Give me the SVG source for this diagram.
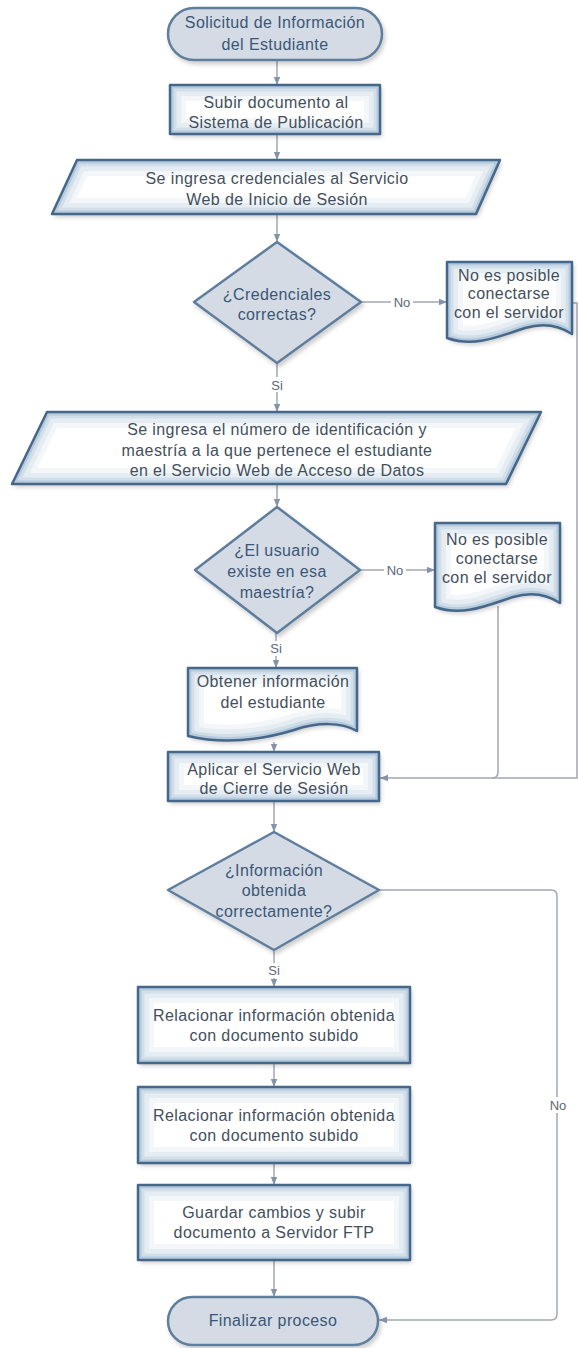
<svg xmlns="http://www.w3.org/2000/svg" width="578" height="1348" viewBox="0 0 578 1348">
<defs>
<filter id="shd" x="-10%" y="-15%" width="125%" height="140%">
<feGaussianBlur in="SourceAlpha" stdDeviation="2" result="b"/>
<feOffset in="b" dx="2" dy="3" result="o"/>
<feFlood flood-color="#000" flood-opacity="0.2"/>
<feComposite in2="o" operator="in" result="shadow"/>
<feMerge><feMergeNode in="shadow"/><feMergeNode in="SourceGraphic"/></feMerge>
</filter>
<marker id="ah" viewBox="0 0 10 10" refX="10" refY="5" markerWidth="8" markerHeight="8" orient="auto" markerUnits="userSpaceOnUse">
<path d="M0,1 L10,5 L0,9 z" fill="#8494a8"/>
</marker>
<rect id="s2" x="170" y="85" width="210" height="49"/>
<path id="s3" d="M77,160 H500 L476,214 H52 Z"/>
<path id="s5" d="M447,262 H572 V334 C560,326 545,322 525,328 C500,336 475,348 447,338 Z"/>
<path id="s6" d="M47,412 H541 L506,484 H12 Z"/>
<path id="s8" d="M435,523 H560 V603 C548,595 533,591 513,597 C488,605 463,617 435,607 Z"/>
<path id="s9" d="M188,668 H357 V731 C341,722 318,722 294,730 C261,740 226,745 188,736 Z"/>
<rect id="s10" x="168" y="752" width="211" height="49"/>
<rect id="s12" x="138" y="987" width="272" height="76"/>
<rect id="s13" x="138" y="1087" width="272" height="76"/>
<rect id="s14" x="138" y="1185" width="272" height="75"/>
<clipPath id="c2"><use href="#s2"/></clipPath>
<clipPath id="c3"><use href="#s3"/></clipPath>
<clipPath id="c5"><use href="#s5"/></clipPath>
<clipPath id="c6"><use href="#s6"/></clipPath>
<clipPath id="c8"><use href="#s8"/></clipPath>
<clipPath id="c9"><use href="#s9"/></clipPath>
<clipPath id="c10"><use href="#s10"/></clipPath>
<clipPath id="c12"><use href="#s12"/></clipPath>
<clipPath id="c13"><use href="#s13"/></clipPath>
<clipPath id="c14"><use href="#s14"/></clipPath>
</defs>
<style>
.bx{fill:#ffffff;stroke:none}
.g1{fill:none;stroke:#8fb0cf;stroke-width:32;stroke-opacity:0.1}
.g2{fill:none;stroke:#8fb0cf;stroke-width:22;stroke-opacity:0.14}
.g3{fill:none;stroke:#86a9c9;stroke-width:13;stroke-opacity:0.2}
.g4{fill:none;stroke:#7a9fc2;stroke-width:7;stroke-opacity:0.32}
.ed{fill:none;stroke:#44678a;stroke-width:2.5;stroke-linejoin:round}
.dm{fill:#d4dbe4;stroke:#5f7d9c;stroke-width:2.5;stroke-linejoin:round}
.t{font-family:"Liberation Sans",Arial,sans-serif;font-size:16px;letter-spacing:0.4px;fill:#434f5c;text-anchor:middle}
.td{font-family:"Liberation Sans",Arial,sans-serif;font-size:16px;letter-spacing:0.4px;fill:#3a5778;text-anchor:middle}
.lb{font-family:"Liberation Sans",Arial,sans-serif;font-size:13px;fill:#5a6878;text-anchor:middle}
.cn{fill:none;stroke:#a0a8b1;stroke-width:1.5}
.ar{marker-end:url(#ah)}
</style>

<g id="connectors">
<path class="cn ar" d="M277,60 V85"/>
<path class="cn ar" d="M277,134 V160"/>
<path class="cn ar" d="M277,214 V242"/>
<path class="cn ar" d="M361,302 H447"/>
<path class="cn ar" d="M277,363 V412"/>
<path class="cn ar" d="M277,484 V507"/>
<path class="cn ar" d="M360,570 H435"/>
<path class="cn ar" d="M276,633 V668"/>
<path class="cn ar" d="M274,742 V752"/>
<path class="cn ar" d="M572,303 H577 V778 H380"/>
<path class="cn" d="M498,606 V772 Q498,778 492,778"/>
<path class="cn ar" d="M274,801 V832"/>
<path class="cn ar" d="M274,950 V987"/>
<path class="cn ar" d="M379,890 H551 Q557,890 557,896 V1314 Q557,1320 551,1320 H379"/>
<path class="cn ar" d="M274,1063 V1087"/>
<path class="cn ar" d="M274,1163 V1185"/>
<path class="cn ar" d="M274,1260 V1297"/>
<rect x="391" y="295" width="22" height="15" fill="#fff"/>
<text class="lb" x="402" y="307">No</text>
<rect x="269" y="377" width="16" height="15" fill="#fff"/>
<text class="lb" x="277" y="390">Si</text>
<rect x="384" y="563" width="22" height="15" fill="#fff"/>
<text class="lb" x="395" y="575">No</text>
<rect x="268" y="641" width="16" height="15" fill="#fff"/>
<text class="lb" x="276" y="653">Si</text>
<rect x="266" y="963" width="16" height="15" fill="#fff"/>
<text class="lb" x="274" y="975">Si</text>
<rect x="547" y="1097" width="22" height="16" fill="#fff"/>
<text class="lb" x="558" y="1110">No</text>
</g>

<g id="n1">
<rect class="dm" filter="url(#shd)" x="168" y="8" width="214" height="52" rx="26"/>
<text class="td" x="275" y="28">Solicitud de Información</text>
<text class="td" x="275" y="50">del Estudiante</text>
</g>

<g id="n2">
<use href="#s2" class="bx" filter="url(#shd)"/>
<g clip-path="url(#c2)"><use href="#s2" class="g1"/><use href="#s2" class="g2"/><use href="#s2" class="g3"/><use href="#s2" class="g4"/></g>
<use href="#s2" class="ed"/>
<text class="t" x="276" y="108">Subir documento al</text>
<text class="t" x="276" y="128">Sistema de Publicación</text>
</g>

<g id="n3">
<use href="#s3" class="bx" filter="url(#shd)"/>
<g clip-path="url(#c3)"><use href="#s3" class="g1"/><use href="#s3" class="g2"/><use href="#s3" class="g3"/><use href="#s3" class="g4"/></g>
<use href="#s3" class="ed"/>
<text class="t" x="277" y="184">Se ingresa credenciales al Servicio</text>
<text class="t" x="277" y="205">Web de Inicio de Sesión</text>
</g>

<g id="n4">
<path class="dm" filter="url(#shd)" d="M277,242 L361,302 L277,363 L194,302 Z"/>
<text class="td" x="277" y="300">¿Credenciales</text>
<text class="td" x="277" y="320">correctas?</text>
</g>

<g id="n5">
<use href="#s5" class="bx" filter="url(#shd)"/>
<g clip-path="url(#c5)"><use href="#s5" class="g1"/><use href="#s5" class="g2"/><use href="#s5" class="g3"/><use href="#s5" class="g4"/></g>
<use href="#s5" class="ed"/>
<text class="t" x="509" y="281">No es posible</text>
<text class="t" x="509" y="299">conectarse</text>
<text class="t" x="509" y="318">con el servidor</text>
</g>

<g id="n6">
<use href="#s6" class="bx" filter="url(#shd)"/>
<g clip-path="url(#c6)"><use href="#s6" class="g1"/><use href="#s6" class="g2"/><use href="#s6" class="g3"/><use href="#s6" class="g4"/></g>
<use href="#s6" class="ed"/>
<text class="t" x="277" y="435">Se ingresa el número de identificación y</text>
<text class="t" x="277" y="456">maestría a la que pertenece el estudiante</text>
<text class="t" x="277" y="476">en el Servicio Web de Acceso de Datos</text>
</g>

<g id="n7">
<path class="dm" filter="url(#shd)" d="M277,507 L360,570 L277,633 L195,570 Z"/>
<text class="td" x="277" y="556">¿El usuario</text>
<text class="td" x="277" y="577">existe en esa</text>
<text class="td" x="277" y="598">maestría?</text>
</g>

<g id="n8">
<use href="#s8" class="bx" filter="url(#shd)"/>
<g clip-path="url(#c8)"><use href="#s8" class="g1"/><use href="#s8" class="g2"/><use href="#s8" class="g3"/><use href="#s8" class="g4"/></g>
<use href="#s8" class="ed"/>
<text class="t" x="497" y="545">No es posible</text>
<text class="t" x="497" y="564">conectarse</text>
<text class="t" x="497" y="583">con el servidor</text>
</g>

<g id="n9">
<use href="#s9" class="bx" filter="url(#shd)"/>
<g clip-path="url(#c9)"><use href="#s9" class="g1"/><use href="#s9" class="g2"/><use href="#s9" class="g3"/><use href="#s9" class="g4"/></g>
<use href="#s9" class="ed"/>
<text class="t" x="273" y="687">Obtener información</text>
<text class="t" x="273" y="708">del estudiante</text>
</g>

<g id="n10">
<use href="#s10" class="bx" filter="url(#shd)"/>
<g clip-path="url(#c10)"><use href="#s10" class="g1"/><use href="#s10" class="g2"/><use href="#s10" class="g3"/><use href="#s10" class="g4"/></g>
<use href="#s10" class="ed"/>
<text class="t" x="274" y="775">Aplicar el Servicio Web</text>
<text class="t" x="274" y="794">de Cierre de Sesión</text>
</g>

<g id="n11">
<path class="dm" filter="url(#shd)" d="M274,832 L379,890 L274,950 L168,890 Z"/>
<text class="td" x="274" y="876">¿Información</text>
<text class="td" x="274" y="896">obtenida</text>
<text class="td" x="274" y="917">correctamente?</text>
</g>

<g id="n12">
<use href="#s12" class="bx" filter="url(#shd)"/>
<g clip-path="url(#c12)"><use href="#s12" class="g1"/><use href="#s12" class="g2"/><use href="#s12" class="g3"/><use href="#s12" class="g4"/></g>
<use href="#s12" class="ed"/>
<text class="t" x="274" y="1021">Relacionar información obtenida</text>
<text class="t" x="274" y="1041">con documento subido</text>
</g>

<g id="n13">
<use href="#s13" class="bx" filter="url(#shd)"/>
<g clip-path="url(#c13)"><use href="#s13" class="g1"/><use href="#s13" class="g2"/><use href="#s13" class="g3"/><use href="#s13" class="g4"/></g>
<use href="#s13" class="ed"/>
<text class="t" x="274" y="1121">Relacionar información obtenida</text>
<text class="t" x="274" y="1141">con documento subido</text>
</g>

<g id="n14">
<use href="#s14" class="bx" filter="url(#shd)"/>
<g clip-path="url(#c14)"><use href="#s14" class="g1"/><use href="#s14" class="g2"/><use href="#s14" class="g3"/><use href="#s14" class="g4"/></g>
<use href="#s14" class="ed"/>
<text class="t" x="274" y="1218">Guardar cambios y subir</text>
<text class="t" x="274" y="1238">documento a Servidor FTP</text>
</g>

<g id="n15">
<rect class="dm" filter="url(#shd)" x="168" y="1297" width="210" height="48" rx="24"/>
<text class="td" x="273" y="1326">Finalizar proceso</text>
</g>
</svg>
